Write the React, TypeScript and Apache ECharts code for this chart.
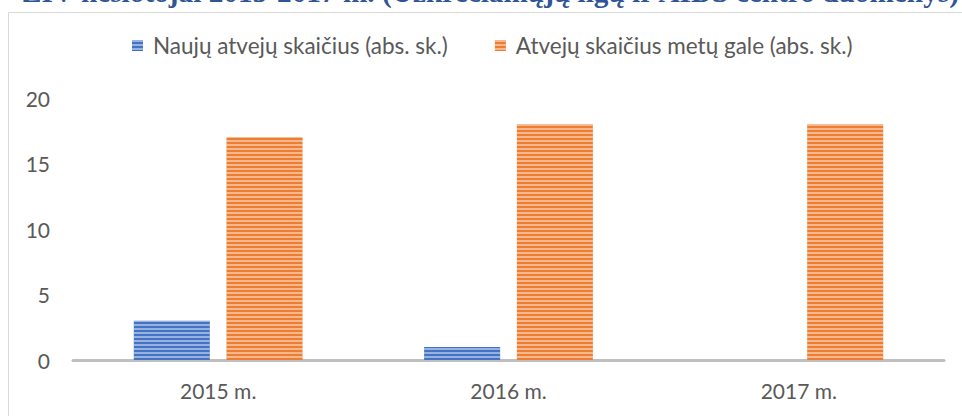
import React, { useEffect, useRef } from "react";
import * as echarts from "echarts";

const categories = ["2015 m.", "2016 m.", "2017 m."];
const newCases = [3, 1, 0];
const endOfYear = [17, 18, 18];
const seriesNames = ["Naujų atvejų skaičius (abs. sk.)", "Atvejų skaičius metų gale (abs. sk.)"];
const titleText = "ŽIV nešiotojai 2015-2017 m. (Užkrečiamųjų ligų ir AIDS centro duomenys)";

const FONT = "Lato";
const TEXT_COLOR = "#595959";

const stripe = {
  symbol: "rect",
  symbolSize: 1,
  dashArrayX: [1, 0],
  dashArrayY: [2, 2],
  rotation: 0,
  color: "rgba(255,255,255,0.45)",
};

export default function App() {
  const ref = useRef<HTMLDivElement>(null);
  useEffect(() => {
    if (!ref.current) return;
    const chart = echarts.init(ref.current, undefined, { renderer: "svg" });
    chart.setOption({
      animation: false,
      backgroundColor: "#ffffff",
      textStyle: { fontFamily: FONT },
      graphic: [
        {
          type: "rect",
          z: -1,
          shape: { x: 8.5, y: 12.5, width: 2000, height: 2000 },
          style: { fill: "none", stroke: "#D9D9D9", lineWidth: 1 },
        },
        {
          type: "text",
          x: 22,
          y: 6.5,
          style: {
            text: titleText,
            font: 'bold 29.3px "Liberation Serif"',
            fill: "#2F5597",
            verticalAlign: "bottom",
            align: "left",
          },
        },
      ],
      legend: {
        left: 127,
        top: 29,
        itemWidth: 11,
        itemHeight: 11,
        itemGap: 47,
        icon: "rect",
        textStyle: { color: TEXT_COLOR, fontSize: 22.5, fontFamily: FONT, padding: [0, 0, 0, 5] },
        data: seriesNames,
      },
      grid: { left: 73, right: 18, top: 98, bottom: 56, containLabel: false },
      xAxis: {
        type: "category",
        data: categories,
        axisLine: { show: true, lineStyle: { color: "#BFBFBF", width: 3 } },
        axisTick: { show: false },
        axisLabel: { color: TEXT_COLOR, fontSize: 21, margin: 20, fontFamily: FONT },
      },
      yAxis: {
        type: "value",
        min: 0,
        max: 20,
        interval: 5,
        axisLine: { show: false },
        axisTick: { show: false },
        splitLine: { show: false },
        axisLabel: { color: TEXT_COLOR, fontSize: 21, margin: 23, fontFamily: FONT },
      },
      series: [
        {
          name: seriesNames[0],
          type: "bar",
          data: newCases,
          barWidth: 76,
          barGap: "22%",
          itemStyle: { color: "#4472C4", decal: stripe },
        },
        {
          name: seriesNames[1],
          type: "bar",
          data: endOfYear,
          barWidth: 76,
          barGap: "22%",
          itemStyle: { color: "#ED7D31", decal: stripe },
        },
      ],
    });
    return () => chart.dispose();
  }, []);
  return (
    <div
      ref={ref}
      style={{ position: "absolute", left: 0, top: 0, width: 962, height: 416 }}
    />
  );
}
